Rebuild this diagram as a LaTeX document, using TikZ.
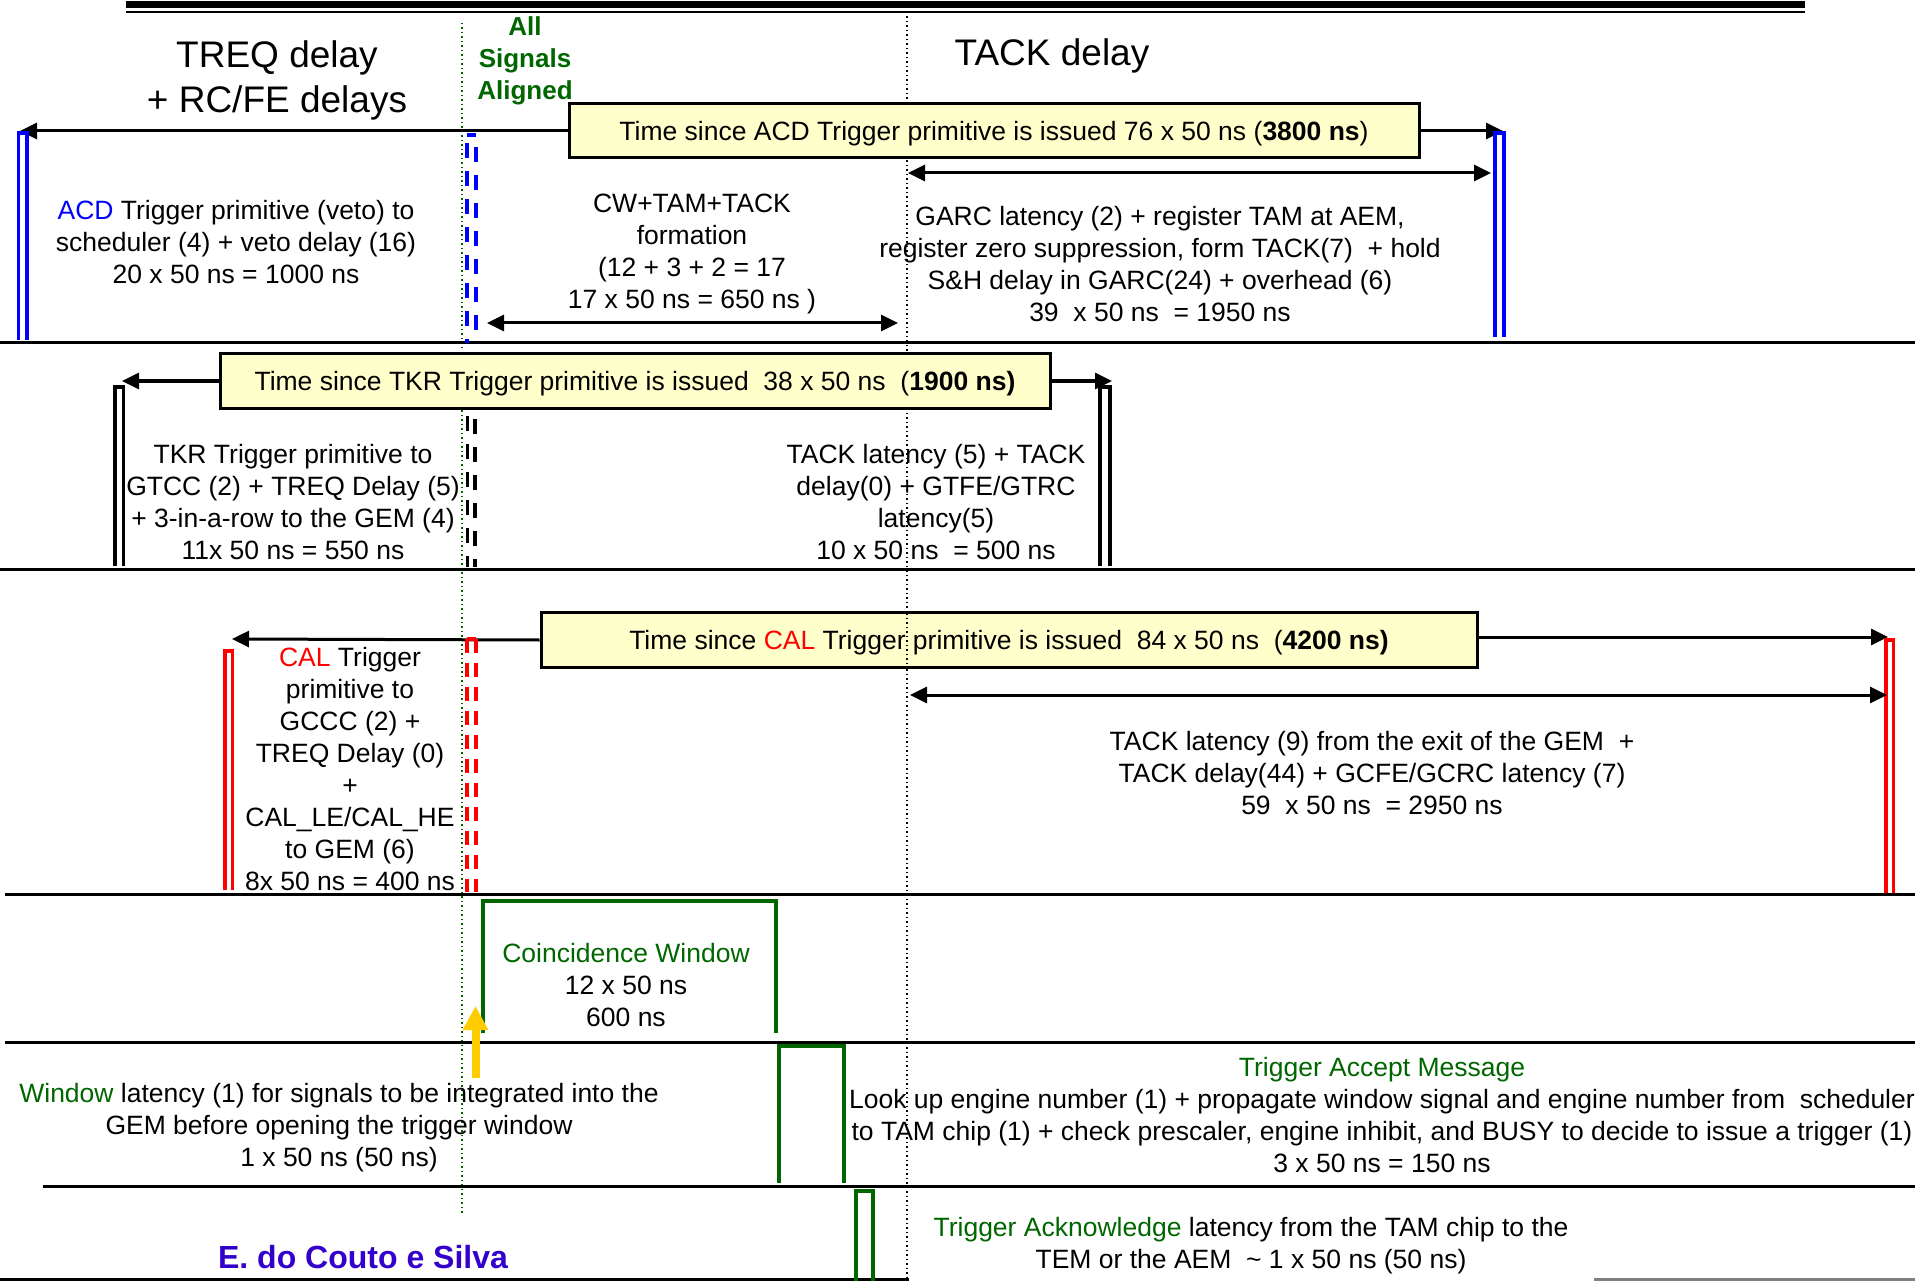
\documentclass[tikz,border=0pt]{standalone}
\usepackage{fontspec}
\setmainfont{Liberation Sans}
\usetikzlibrary{arrows.meta}
\definecolor{dgreen}{HTML}{006600}
\definecolor{boxyel}{HTML}{FFFFCC}
\definecolor{gold}{HTML}{FFCC00}
\definecolor{acdblue}{HTML}{0000FF}
\definecolor{sigblue}{HTML}{3300CC}
\definecolor{calred}{HTML}{FF0000}
\newcommand\bodyfs{\fontsize{26.5}{32}\selectfont}
\begin{document}
\begin{tikzpicture}[x=1pt,y=-1pt,
  sepline/.style={line width=3pt},
  tarr/.style={line width=3pt,-{Triangle[length=17pt,width=16pt]}},
  darr/.style={line width=3pt,{Triangle[length=17pt,width=16pt]}-{Triangle[length=17pt,width=16pt]}},
  tbox/.style={draw,line width=3pt,fill=boxyel,minimum height=54pt,inner sep=0pt,font=\bodyfs,text height=22pt,text depth=2.5pt},
  txt/.style={align=center,font=\bodyfs,inner sep=0pt},
  bar/.style={line width=3.5pt},
  dbar/.style={line width=3.5pt,dash pattern=on 15pt off 13pt},
  pulse/.style={line width=3.5pt,dgreen},
  dotg/.style={dgreen,line width=1.5pt,dash pattern=on 1.5pt off 3pt},
  dotk/.style={black,line width=1.5pt,dash pattern=on 1.5pt off 3pt}]
\useasboundingbox (0,0) rectangle (1915,1281);
% top double rule
\draw[line width=7pt] (126,5) -- (1805,5);
\draw[line width=2pt] (126,12) -- (1805,12);
% dotted reference lines
\draw[dotg] (462,23) -- (462,1215);
\draw[dotk] (907,12) -- (907,1281);
% row separators
\draw[sepline] (0,343) -- (1915,343);
\draw[sepline] (0,569) -- (1915,569);
\draw[sepline] (5,894) -- (1915,894);
\draw[sepline] (5,1042) -- (1915,1042);
\draw[sepline] (43,1186) -- (1915,1186);
\draw[sepline] (0,1279) -- (909,1279);
\draw[sepline,gray] (1594,1279) -- (1915,1279);
% titles
\node[align=center,inner sep=0pt,font=\fontsize{37}{45}\selectfont] (t1) at (277,80) {TREQ delay\\+ RC/FE delays};
\node[inner sep=0pt,font=\fontsize{37}{45}\selectfont] (t2) at (1052,56) {TACK delay};
\node[align=center,inner sep=0pt,text=dgreen,font=\fontsize{26}{32}\selectfont\bfseries] (aligned) at (525,61) {All\\Signals\\Aligned};
% ===== ACD row =====
\node[tbox,minimum width=850pt] (acdbox) at (994,131) {Time since ACD Trigger primitive is issued 76 x 50 ns (\textbf{3800 ns})};
\coordinate (acdL) at (20,131);
\coordinate (acdR) at (1503,131);
\draw[tarr] (acdbox.west) -- (acdL);
\draw[tarr] (acdbox.east) -- (acdR);
\draw[bar,acdblue] (18.5,340) |- (27,133) -- (27,340);
\draw[bar,acdblue] (1495,337) |- (1504,133) -- (1504,337);
\draw[bar,acdblue] (467,135) -- (476,135);
\draw[dbar,acdblue,dash phase=-8pt] (467,135) -- (467,343);
\draw[dbar,acdblue,dash phase=-12pt] (476,135) -- (476,343);
\coordinate (garcA) at (908,173);
\coordinate (garcB) at (1491,173);
\draw[darr] (garcA) -- (garcB);
\coordinate (cwA) at (487,323);
\coordinate (cwB) at (898,323);
\draw[darr] (cwA) -- (cwB);
\node[txt] (acdtxt) at (236,242) {{\color{acdblue}ACD} Trigger primitive (veto) to\\scheduler (4) + veto delay (16)\\20 x 50 ns = 1000 ns};
\node[txt] (cwtxt) at (692,254) {CW+TAM+TACK\\formation\\(12 + 3 + 2 = 17\\17 x 50 ns = 650 ns )};
\node[txt] (garctxt) at (1160,264) {GARC latency (2) + register TAM at AEM,\\register zero suppression, form TACK(7) \ + hold\\S\&H delay in GARC(24) + overhead (6)\\39 \ x 50 ns \ = 1950 ns};
% ===== TKR row =====
\node[tbox,minimum width=830pt,minimum height=55pt] (tkrbox) at (635,381) {Time since TKR Trigger primitive is issued \ 38 x 50 ns \ (\textbf{1900 ns)}};
\coordinate (tkrL) at (122,381);
\coordinate (tkrR) at (1112,381);
\draw[tarr] (tkrbox.west) -- (tkrL);
\draw[tarr] (tkrbox.east) -- (tkrR);
\draw[bar] (115,566) |- (123.5,387) -- (123.5,566);
\draw[bar] (1100,566) |- (1110,387) -- (1110,566);
\draw[dbar,line width=3pt,dash phase=0pt] (467.5,416) -- (467.5,567);
\draw[dbar,dash phase=-3pt] (475,416) -- (475,567);
\node[txt] (tkrtxt) at (293,502) {TKR Trigger primitive to\\GTCC (2) + TREQ Delay (5)\\+ 3-in-a-row to the GEM (4)\\11x 50 ns = 550 ns};
\node[txt] (tacktxt) at (936,502) {TACK latency (5) + TACK\\delay(0) + GTFE/GTRC\\latency(5)\\10 x 50 ns \ = 500 ns};
% ===== CAL row =====
\node[tbox,minimum width=936pt,minimum height=55pt] (calbox) at (1009,640) {Time since {\color{calred}CAL} Trigger primitive is issued \ 84 x 50 ns \ (\textbf{4200 ns)}};
\draw[dotk] (907,613) -- (907,668);
\coordinate (calL) at (232,639);
\coordinate (calR) at (1888,637);
\draw[tarr] (calbox.west) -- (calL);
\draw[tarr] (calbox.east |- calR) -- (calR);
\draw[bar,calred] (225,890) |- (232.5,651) -- (232.5,890);
\draw[bar,calred] (1886,893) |- (1893.5,640) -- (1893.5,893);
\draw[bar,calred] (467,639) -- (476,639);
\draw[dbar,calred,dash pattern=on 14pt off 10pt] (467,639) -- (467,892);
\draw[dbar,calred,dash pattern=on 14pt off 10pt] (476,639) -- (476,892);
\coordinate (calA) at (910,695);
\coordinate (calB) at (1887,695);
\draw[darr] (calA) -- (calB);
\node[txt] (caltxt) at (350,769) {{\color{calred}CAL} Trigger\\primitive to\\GCCC (2) +\\TREQ Delay (0)\\+\\CAL\_LE/CAL\_HE\\to GEM (6)\\8x 50 ns = 400 ns};
\node[txt] (caltack) at (1372,773) {TACK latency (9) from the exit of the GEM \ +\\TACK delay(44) + GCFE/GCRC latency (7)\\59 \ x 50 ns \ = 2950 ns};
% ===== Coincidence window =====
\draw[pulse] (483,1033) -- (483,901) -- (776,901) -- (776,1033);
\node[txt] (cwin) at (626,985) {{\color{dgreen}Coincidence Window}\\12 x 50 ns\\600 ns};
\coordinate (yA) at (475.5,1078);
\coordinate (yB) at (475.5,1006);
\draw[gold,line width=8pt,-{Triangle[length=24pt,width=24pt]}] (yA) -- (yB);
% ===== Trigger accept =====
\draw[pulse] (779,1183) -- (779,1046) -- (844,1046) -- (844,1183);
\node[txt] (wintxt) at (339,1128) {{\color{dgreen}Window} latency (1) for signals to be integrated into the\\GEM before opening the trigger window\\1 x 50 ns (50 ns)};
\node[txt] (tamtxt) at (1382,1115) {{\color{dgreen}Trigger Accept Message}\\Look up engine number (1) + propagate window signal and engine number from \ scheduler\\to TAM chip (1) + check prescaler, engine inhibit, and BUSY to decide to issue a trigger (1)\\3 x 50 ns = 150 ns};
% ===== Trigger acknowledge =====
\draw[pulse] (856,1281) -- (856,1191) -- (873,1191) -- (873,1281);
\node[txt] (acktxt) at (1251,1246) {{\color{dgreen}Trigger Acknowledge} latency from the TAM chip to the\\TEM or the AEM \ \textasciitilde\ 1 x 50 ns (50 ns)};
\node[inner sep=0pt,text=sigblue,font=\fontsize{32}{38}\selectfont\bfseries] (sig) at (363,1257) {E. do Couto e Silva};
\end{tikzpicture}
\end{document}
